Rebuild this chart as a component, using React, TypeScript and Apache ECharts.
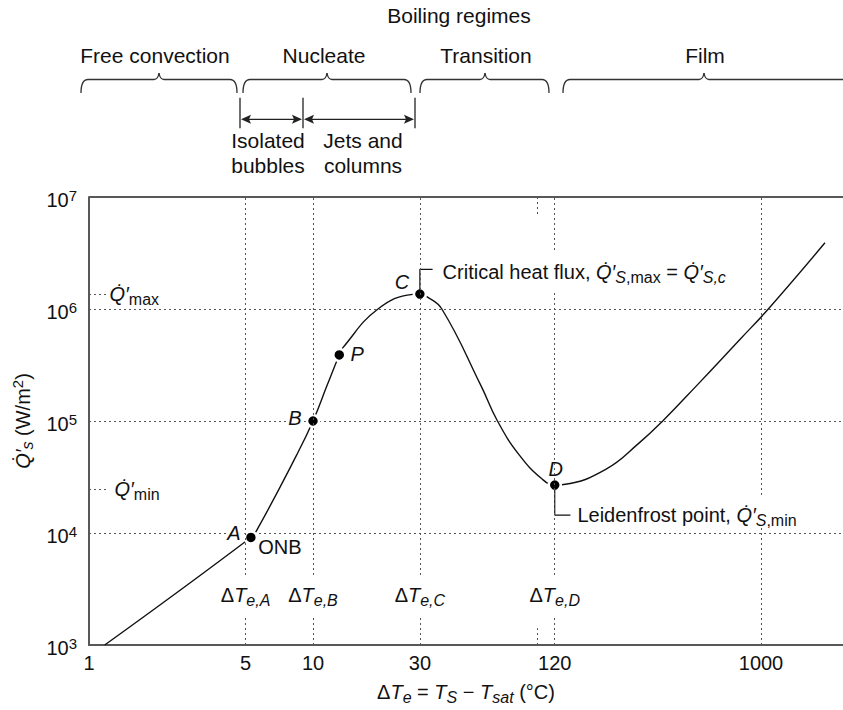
import React, { useEffect, useRef } from 'react';
import * as echarts from 'echarts';

// ---- data (log-log boiling curve) ----
const CURVE_X = [1.175, 5.28, 5.63, 8.47, 10, 11.55, 13.1, 13.6, 19.5, 27.9, 30, 32.2, 37.6, 56.2, 66.6, 83.1, 105.4, 120, 131.6, 202.7, 286, 364, 516, 805, 1078, 1930];
const CURVE_Y = [1000, 9120, 1.07e4, 5.01e4, 1e5, 2.07e5, 3.89e5, 4.52e5, 1.0e6, 1.35e6, 1.36e6, 1.29e6, 1.0e6, 2.07e5, 1e5, 5.01e4, 3.03e4, 2.68e4, 2.71e4, 3.7e4, 6.38e4, 1e5, 2.07e5, 5.35e5, 1.0e6, 3.9e6];

const POINT_NAMES = ['A', 'B', 'P', 'C', 'D'];
const POINT_X = [5.28, 10, 13.1, 30, 120];
const POINT_Y = [9120, 1e5, 3.89e5, 1.36e6, 2.68e4];

const X_TICKS = [1, 5, 10, 30, 120, 1000];
const GRID_X = [5, 10, 30, 120, 1000];
const DT_NAMES = ['A', 'B', 'C', 'D'];
const DT_X = [5, 10, 30, 120];
const DT_Y = 2790;

const X_MIN = 1;
const X_MAX = 2323;
const Y_MIN = 1e3;
const Y_MAX = 1e7;

const Q_MAX = 1.36e6;
const Q_MIN = 2.46e4;
const Q_REF_X = [1, 1.21];

const STUB_X = 100;
const STUB_TOP = [1e7, 6.98e6];
const STUB_BOTTOM = [1e3, 1414];

const CALLOUT_C = [[30, 1.36e6], [30, 2.26e6], [34.2, 2.26e6]];
const CALLOUT_D = [[120, 2.68e4], [120, 1.445e4], [141, 1.445e4]];

const REGIMES = ['Free convection', 'Nucleate', 'Transition', 'Film'];
const SUB_REGIMES = [['Isolated', 'bubbles'], ['Jets and', 'columns']];
const TOP_TITLE = 'Boiling regimes';

const QDOT = 'Q\u0307\u2032';

const FONT = '"Liberation Sans", Arial, Helvetica, sans-serif';
const INK = '#111';
const GRIDC = '#555';
const AXISC = '#585858';

const rich: any = {
  n: { fontSize: 20, fontFamily: FONT, color: INK, lineHeight: 26 },
  i: { fontSize: 20, fontFamily: FONT, color: INK, fontStyle: 'italic', lineHeight: 26 },
  si: { fontSize: 16, fontFamily: FONT, color: INK, fontStyle: 'italic', lineHeight: 15, verticalAlign: 'bottom' },
  sn: { fontSize: 16, fontFamily: FONT, color: INK, lineHeight: 15, verticalAlign: 'bottom' },
  sup: { fontSize: 15, fontFamily: FONT, color: INK, lineHeight: 15, verticalAlign: 'top' },
};

const yRich: any = {
  b: { fontSize: 20, fontFamily: FONT, color: INK, lineHeight: 24 },
  sup: { fontSize: 15, fontFamily: FONT, color: INK, lineHeight: 15, verticalAlign: 'top' },
};

function brace(x1: number, xm: number, x2: number, rightHook: boolean) {
  const y = 79.5, yh = 93, yt = 73, r = 7, t = 5;
  const els: any[] = [
    { type: 'bezierCurve', shape: { x1: x1, y1: yh, x2: x1 + r, y2: y, cpx1: x1, cpy1: y } },
    { type: 'line', shape: { x1: x1 + r, y1: y, x2: xm - t, y2: y } },
    { type: 'bezierCurve', shape: { x1: xm - t, y1: y, x2: xm, y2: yt, cpx1: xm - 1, cpy1: y } },
    { type: 'bezierCurve', shape: { x1: xm, y1: yt, x2: xm + t, y2: y, cpx1: xm + 1, cpy1: y } },
    { type: 'line', shape: { x1: xm + t, y1: y, x2: rightHook ? x2 - r : x2, y2: y } },
  ];
  if (rightHook) {
    els.push({ type: 'bezierCurve', shape: { x1: x2 - r, y1: y, x2: x2, y2: yh, cpx1: x2, cpy1: y } });
  }
  return els.map((e) => ({ ...e, silent: true, style: { stroke: '#333', lineWidth: 1.3, fill: 'none' } }));
}

function arrowHead(xTip: number, y: number, dir: number) {
  const L = 10, W = 4.5, notch = 2;
  return {
    type: 'polygon',
    silent: true,
    shape: {
      points: [
        [xTip, y],
        [xTip - dir * L, y - W],
        [xTip - dir * (L - notch), y],
        [xTip - dir * L, y + W],
      ],
    },
    style: { fill: '#222' },
  };
}

function topText(text: string, x: number, y: number) {
  return {
    type: 'text',
    silent: true,
    x,
    y,
    style: { text, fontSize: 21, fontFamily: FONT, fill: INK, align: 'center', verticalAlign: 'middle' },
  };
}

function buildGraphic() {
  const els: any[] = [];
  els.push(topText(TOP_TITLE, 459, 15));
  const regimePos = [155, 324, 486, 705];
  REGIMES.forEach((r, k) => els.push(topText(r, regimePos[k], 55)));
  els.push(...brace(81, 159, 237, true));
  els.push(...brace(243, 327, 411, true));
  els.push(...brace(420, 485, 549, true));
  els.push(...brace(563, 704, 860, false));
  const lineStyle = { stroke: '#222', lineWidth: 1.3 };
  [240, 303, 415].forEach((x) =>
    els.push({ type: 'line', silent: true, shape: { x1: x, y1: 97.7, x2: x, y2: 128.3 }, style: lineStyle })
  );
  const ay = 119.3;
  els.push({ type: 'line', silent: true, shape: { x1: 243, y1: ay, x2: 300, y2: ay }, style: lineStyle });
  els.push({ type: 'line', silent: true, shape: { x1: 306, y1: ay, x2: 412, y2: ay }, style: lineStyle });
  els.push(arrowHead(241, ay, -1));
  els.push(arrowHead(302, ay, 1));
  els.push(arrowHead(304, ay, -1));
  els.push(arrowHead(414, ay, 1));
  const subPos = [268, 363];
  SUB_REGIMES.forEach((lines, k) => {
    els.push(topText(lines[0], subPos[k], 140));
    els.push(topText(lines[1], subPos[k], 165));
  });
  return els;
}

const DOT_OFFSETS: Record<string, number[]> = {
  A: [-17, -4],
  B: [-18, -3],
  P: [18, -1],
  C: [-18, -12],
  D: [1, -16],
};
const DOT_BG: Record<string, boolean> = { A: true, B: true, P: false, C: false, D: true };

export default function App() {
  const ref = useRef<HTMLDivElement>(null);

  useEffect(() => {
    if (!ref.current) return;
    const chart = echarts.init(ref.current, undefined, { renderer: 'svg' });

    const curve = CURVE_X.map((x, k) => [x, CURVE_Y[k]]);

    const dots = POINT_NAMES.map((nm, k) => ({
      name: nm,
      value: [POINT_X[k], POINT_Y[k]],
      label: {
        show: true,
        position: 'inside',
        offset: DOT_OFFSETS[nm],
        formatter: nm,
        fontSize: 20,
        fontStyle: 'italic',
        fontFamily: FONT,
        color: INK,
        opacity: 1,
        lineHeight: 20,
        backgroundColor: DOT_BG[nm] ? '#fff' : 'transparent',
        padding: [0, 1, 0, 1],
      },
    }));

    const textItems: any[] = [];
    X_TICKS.forEach((v) =>
      textItems.push({
        value: [v, Y_MIN],
        label: {
          show: true,
          position: 'bottom',
          distance: 7,
          formatter: String(v),
          fontSize: 20,
          fontFamily: FONT,
          color: INK,
          opacity: 1,
          lineHeight: 22,
        },
      })
    );
    DT_X.forEach((v, k) =>
      textItems.push({
        value: [v, DT_Y],
        label: {
          show: true,
          position: 'inside',
          formatter: `{n|\u0394}{i|T}{si|e,${DT_NAMES[k]}}`,
          rich,
          opacity: 1,
          backgroundColor: '#fff',
          padding: [7, 2, 7, 2],
        },
      })
    );
    textItems.push({
      value: [Q_REF_X[1], Q_MAX],
      label: { show: true, position: 'right', distance: 2, opacity: 1, formatter: `{i|${QDOT}}{sn|max}`, rich },
    });
    textItems.push({
      value: [Q_REF_X[1], Q_MIN],
      label: { show: true, position: 'right', distance: 7, opacity: 1, formatter: `{i|${QDOT}}{sn|min}`, rich },
    });
    textItems.push({
      value: CALLOUT_C[2],
      label: {
        show: true,
        position: 'right',
        distance: 8,
        offset: [0, 3],
        opacity: 1,
        formatter: `{n|Critical heat flux, }{i|${QDOT}}{si|S}{sn|,max}{n| = }{i|${QDOT}}{si|S,c}`,
        rich,
        backgroundColor: '#fff',
        padding: [7, 2, 7, 2],
      },
    });
    textItems.push({
      value: CALLOUT_D[2],
      label: {
        show: true,
        position: 'right',
        distance: 5,
        offset: [0, -2],
        opacity: 1,
        formatter: `{n|Leidenfrost point, }{i|${QDOT}}{si|S}{sn|,min}`,
        rich,
        backgroundColor: '#fff',
        padding: [4, 2, 0, 2],
      },
    });
    textItems.push({
      value: [POINT_X[0], POINT_Y[0]],
      label: {
        show: true,
        position: 'inside',
        offset: [29, 10],
        formatter: 'ONB',
        fontSize: 20,
        fontFamily: FONT,
        color: INK,
        opacity: 1,
      },
    });

    const dashed = { type: [2, 3], color: GRIDC, width: 1 };
    const axisLine = { show: true, onZero: false, lineStyle: { color: AXISC, width: 2 } };

    const option: any = {
      animation: false,
      backgroundColor: '#fff',
      grid: {
        left: 89,
        right: 0,
        top: 197,
        bottom: 62,
        show: false,
      },
      xAxis: {
        type: 'log',
        logBase: 10,
        min: X_MIN,
        max: X_MAX,
        axisLine,
        axisTick: { show: false },
        axisLabel: { show: false },
        splitLine: { show: false },
        minorTick: { show: false },
        name: '{n|\u0394}{i|T}{si|e}{n| = }{i|T}{si|S}{n| \u2212 }{i|T}{si|sat}{n| (\u00B0C)}',
        nameLocation: 'middle',
        nameGap: 34,
        nameTextStyle: { rich },
      },
      yAxis: {
        type: 'log',
        logBase: 10,
        min: Y_MIN,
        max: Y_MAX,
        axisLine,
        axisTick: { show: false },
        axisLabel: {
          margin: 12,
          formatter: (v: number) => `{b|10}{sup|${Math.round(Math.log10(v))}}`,
          rich: yRich,
          padding: [6, 0, 0, 0],
        },
        splitLine: { show: true, lineStyle: dashed },
        name: `{i|${QDOT}}{si|s}{n| (W/m}{sup|2}{n|)}`,
        nameLocation: 'middle',
        nameRotate: 90,
        nameGap: 50,
        nameTextStyle: { rich },
      },
      graphic: buildGraphic(),
      series: [
        {
          type: 'line',
          name: 'Boiling curve',
          data: curve,
          smooth: 0.45,
          symbol: 'none',
          z: 2,
          silent: true,
          lineStyle: { color: '#111', width: 1.4 },
          markLine: {
            silent: true,
            symbol: ['none', 'none'],
            label: { show: false },
            lineStyle: dashed,
            data: [
              ...GRID_X.map((v) => ({ xAxis: v })),
              { yAxis: Y_MAX, lineStyle: { type: 'solid', color: AXISC, width: 2 } },
              [{ coord: [STUB_X, STUB_TOP[0]] }, { coord: [STUB_X, STUB_TOP[1]] }],
              [{ coord: [STUB_X, STUB_BOTTOM[0]] }, { coord: [STUB_X, STUB_BOTTOM[1]] }],
              [{ coord: [Q_REF_X[0], Q_MAX] }, { coord: [Q_REF_X[1], Q_MAX] }],
              [{ coord: [Q_REF_X[0], Q_MIN] }, { coord: [Q_REF_X[1], Q_MIN] }],
            ],
          },
        },
        {
          type: 'scatter',
          name: 'Points',
          data: dots,
          symbolSize: 12,
          z: 3,
          silent: true,
          itemStyle: { color: '#000', borderColor: '#fff', borderWidth: 2.5, opacity: 1 },
        },
        {
          type: 'line',
          name: 'Callout C',
          data: CALLOUT_C,
          symbol: 'none',
          z: 4,
          silent: true,
          lineStyle: { color: '#111', width: 1.2 },
        },
        {
          type: 'line',
          name: 'Callout D',
          data: CALLOUT_D,
          symbol: 'none',
          z: 4,
          silent: true,
          lineStyle: { color: '#111', width: 1.2 },
        },
        {
          type: 'scatter',
          name: 'Annotations',
          data: textItems,
          symbolSize: 0,
          z: 5,
          silent: true,
          itemStyle: { color: 'transparent', opacity: 1 },
        },
      ],
    };

    chart.setOption(option);
    return () => chart.dispose();
  }, []);

  return (
    <div
      ref={ref}
      style={{ position: 'absolute', left: 0, top: 0, width: 843, height: 710, background: '#fff' }}
    />
  );
}
